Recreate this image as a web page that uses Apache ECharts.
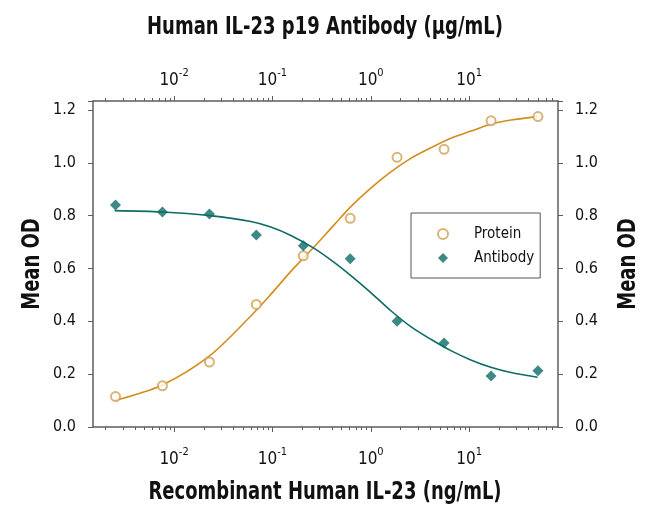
<!DOCTYPE html>
<html>
<head>
<meta charset="utf-8">
<script src="https://cdn.jsdelivr.net/npm/echarts@6/dist/echarts.min.js"></script>
<style>
html,body{margin:0;padding:0;background:#fff;}
#chart{width:650px;height:523px;}
</style>
</head>
<body>
<div id="chart"></div>
<script>
// ---- data ----
var concentrations = [0.00254, 0.00762, 0.0229, 0.0686, 0.206, 0.617, 1.85, 5.56, 16.7, 50];
var proteinOD  = [0.115, 0.156, 0.246, 0.464, 0.648, 0.790, 1.021, 1.051, 1.159, 1.175];
var antibodyOD = [0.840, 0.814, 0.806, 0.727, 0.686, 0.637, 0.400, 0.318, 0.193, 0.213];

// fitted curves
var curveX        = [0.00249, 0.00762, 0.0231, 0.0603, 0.0963, 0.154, 0.266, 0.424, 0.627, 1.0, 1.6, 2.55, 4.08, 6.51, 10.4, 16.6, 26.6, 49.6];
var proteinCurve  = [0.100, 0.159, 0.270, 0.420, 0.502, 0.589, 0.682, 0.765, 0.834, 0.904, 0.966, 1.017, 1.057, 1.093, 1.120, 1.146, 1.162, 1.175];
var antibodyCurve = [0.819, 0.814, 0.800, 0.778, 0.757, 0.725, 0.676, 0.623, 0.573, 0.509, 0.440, 0.380, 0.332, 0.289, 0.254, 0.226, 0.206, 0.188];

// axes
var xTickValues    = [0.01, 0.1, 1, 10];
var xTickExponents = ['-2', '-1', '0', '1'];
var yTickValues    = [0, 0.2, 0.4, 0.6, 0.8, 1.0, 1.2];
var yTickLabels    = ['0.0', '0.2', '0.4', '0.6', '0.8', '1.0', '1.2'];

var topTitle    = 'Human IL-23 p19 Antibody (\u03bcg/mL)';
var bottomTitle = 'Recombinant Human IL-23 (ng/mL)';
var yTitle      = 'Mean OD';

var X_MIN = 0.0015, X_MAX = 80;
var Y_MIN = 0, Y_MAX = 1.234;

// minor (2..9) log ticks
var xMinorTicks = [];
for (var e = -3; e <= 1; e++) {
  for (var m = 2; m <= 9; m++) {
    var v = m * Math.pow(10, e);
    if (v > X_MIN && v < X_MAX) xMinorTicks.push(v);
  }
}

var ORANGE = '#D38D1C';
var CIRCLE = '#CFA055';
var TEAL = '#0E6B66';
var AXIS = '#5e5e5e';
var FONT = "'Liberation Sans Narrow', 'DejaVu Sans Condensed', 'Roboto Condensed', 'Arial Narrow', Roboto, sans-serif";

function zip(xs, ys) { return xs.map(function (x, i) { return [x, ys[i]]; }); }

function xLabel(val) {
  for (var i = 0; i < xTickValues.length; i++) {
    if (Math.abs(val - xTickValues[i]) / xTickValues[i] < 1e-6) {
      return '{b|10}{s|' + xTickExponents[i] + '}';
    }
  }
  return '';
}
function yLabel(val) {
  for (var i = 0; i < yTickValues.length; i++) {
    if (Math.abs(val - yTickValues[i]) < 1e-6) return yTickLabels[i];
  }
  return '';
}

var richSup = {
  b: { fontSize: 17, lineHeight: 21, verticalAlign: 'bottom', fontFamily: FONT, color: '#111' },
  s: { fontSize: 11, lineHeight: 16, verticalAlign: 'top', fontFamily: FONT, color: '#111' }
};

function xAxisCfg(pos, margin) {
  return {
    type: 'log', logBase: 10, position: pos, min: X_MIN, max: X_MAX,
    axisLine: { show: true, onZero: false, lineStyle: { color: AXIS, width: 1.5 } },
    axisTick: { show: false },
    splitLine: { show: false },
    axisLabel: { show: true, margin: margin, formatter: xLabel, rich: richSup }
  };
}
function yAxisCfg(pos) {
  return {
    type: 'value', position: pos, min: Y_MIN, max: Y_MAX, interval: 0.2,
    axisLine: { show: true, onZero: false, lineStyle: { color: AXIS, width: 1.5 } },
    axisTick: { show: true, length: 5, lineStyle: { color: AXIS, width: 1 } },
    splitLine: { show: false },
    axisLabel: { margin: 17, formatter: yLabel, fontFamily: FONT, fontSize: 16, color: '#111' }
  };
}

function titleText(text, x, y, rot) {
  return {
    type: 'text', x: x, y: y, rotation: rot, scaleX: 0.8, silent: true,
    style: { text: text, fontFamily: FONT, fontSize: 25, fontWeight: 'bold', fill: '#111',
             textAlign: 'center', textVerticalAlign: 'middle' }
  };
}

var tickData = xMinorTicks.map(function (v) { return [v, 0]; })
  .concat(xTickValues.map(function (v) { return [v, 1]; }));

var chart = echarts.init(document.getElementById('chart'), null, { renderer: 'canvas' });
chart.setOption({
  animation: false,
  backgroundColor: '#ffffff',
  graphic: [
    titleText(topTitle, 325, 27, 0),
    titleText(bottomTitle, 325, 492, 0),
    titleText(yTitle, 32, 264, Math.PI / 2),
    titleText(yTitle, 628, 264, Math.PI / 2)
  ],
  grid: { left: 93, top: 101, width: 465, height: 326, containLabel: false },
  legend: {
    data: ['Protein', 'Antibody'],
    orient: 'vertical', left: 411, top: 213,
    itemWidth: 10, itemHeight: 10, itemGap: 8,
    padding: [13, 6, 12, 26],
    borderColor: '#555', borderWidth: 1, backgroundColor: '#fff',
    textStyle: { fontFamily: FONT, fontSize: 15, lineHeight: 16, color: '#111', padding: [0, 0, 0, 21] }
  },
  xAxis: [xAxisCfg('bottom', 20), xAxisCfg('top', 12)],
  yAxis: [yAxisCfg('left'), yAxisCfg('right')],
  series: [
    {
      name: 'Protein fit', type: 'line', xAxisIndex: 0, yAxisIndex: 0,
      data: zip(curveX, proteinCurve), smooth: 0.3, showSymbol: false, symbol: 'none',
      lineStyle: { color: ORANGE, width: 1.6 }, z: 2, silent: true
    },
    {
      name: 'Antibody fit', type: 'line', xAxisIndex: 0, yAxisIndex: 0,
      data: zip(curveX, antibodyCurve), smooth: 0.3, showSymbol: false, symbol: 'none',
      lineStyle: { color: TEAL, width: 1.6 }, z: 2, silent: true
    },
    {
      name: 'Protein', type: 'scatter', xAxisIndex: 0, yAxisIndex: 0,
      data: zip(concentrations, proteinOD), symbol: 'emptyCircle', symbolSize: 9,
      itemStyle: { color: CIRCLE, borderColor: CIRCLE, borderWidth: 1.2 }, z: 3
    },
    {
      name: 'Antibody', type: 'scatter', xAxisIndex: 0, yAxisIndex: 0,
      data: zip(concentrations, antibodyOD), symbol: 'diamond', symbolSize: 11,
      itemStyle: { color: TEAL }, z: 3
    },
    {
      name: 'ticks', type: 'custom', xAxisIndex: 0, yAxisIndex: 0, clip: false, silent: true, z: 1,
      data: tickData,
      renderItem: function (params, api) {
        var v = api.value(0);
        var len = api.value(1) === 1 ? 5 : 3;
        var pb = api.coord([v, Y_MIN]);
        var pt = api.coord([v, Y_MAX]);
        var x = Math.round(pb[0]) + 0.5;
        return {
          type: 'group',
          children: [
            { type: 'line', shape: { x1: x, y1: pb[1], x2: x, y2: pb[1] + len }, style: { stroke: AXIS, lineWidth: 1 } },
            { type: 'line', shape: { x1: x, y1: pt[1], x2: x, y2: pt[1] - len }, style: { stroke: AXIS, lineWidth: 1 } }
          ]
        };
      }
    }
  ]
});
</script>
</body>
</html>
